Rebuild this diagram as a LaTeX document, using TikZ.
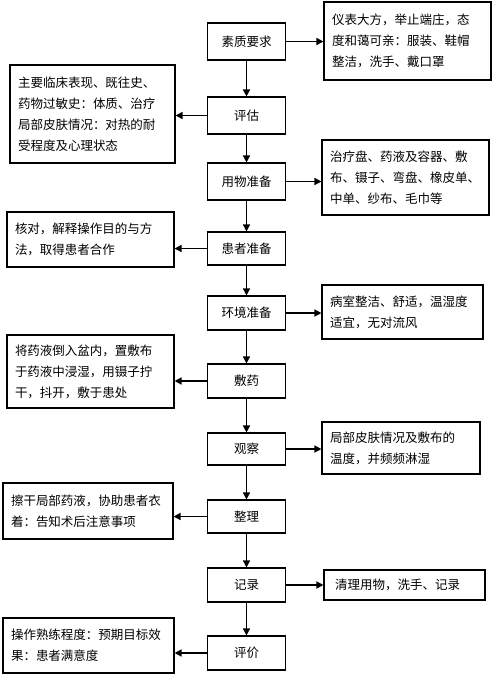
\documentclass[tikz,border=0pt]{standalone}
\usepackage{fontspec}
\newfontfamily\cjk{Noto Sans CJK SC}
\usetikzlibrary{arrows.meta,calc}
\begin{document}
\begin{tikzpicture}[x=1pt,y=-1pt,
  box/.style={draw,line width=1.1pt,rectangle,inner ysep=0pt,font=\cjk\fontsize{12.5}{21}\selectfont},
  mainbox/.style={box,inner xsep=0pt,minimum width=78pt,minimum height=35pt,align=center},
  sidebox/.style={box,inner xsep=8pt,align=left},
  arr/.style={-{Triangle[length=7pt,width=7pt]},line width=1.4pt}]
\useasboundingbox[fill=white] (0,0) rectangle (500,675);
% main column
\node[mainbox,minimum height=37pt] (b1) at (246.5,41.5) {素质要求};
\node[mainbox,minimum height=37pt] (b2) at (246.5,115.5) {评估};
\node[mainbox,minimum height=37pt] (b3) at (246.5,181.5) {用物准备};
\node[mainbox,minimum height=33pt] (b4) at (246.5,248.5) {患者准备};
\node[mainbox,minimum height=34pt] (b5) at (246.5,313) {环境准备};
\node[mainbox,minimum height=34pt] (b6) at (246.5,381) {敷药};
\node[mainbox,minimum height=32pt] (b7) at (246.5,449) {观察};
\node[mainbox,minimum height=33pt] (b8) at (246.5,516.5) {整理};
\node[mainbox,minimum height=34pt] (b9) at (246.5,585) {记录};
\node[mainbox,minimum height=34pt] (b10) at (246.5,653) {评价};
% right boxes
\node[sidebox,text width=151pt,minimum height=78pt] (r1) at (407.5,41) {仪表大方，举止端庄，态\\度和蔼可亲：服装、鞋帽\\整洁，洗手、戴口罩};
\node[sidebox,text width=151pt,minimum height=75pt] (r3) at (405.5,177.5) {治疗盘、药液及容器、敷\\布、镊子、弯盘、橡皮单、\\中单、纱布、毛巾等};
\node[sidebox,text width=145pt,minimum height=54pt] (r5) at (402.5,312) {病室整洁、舒适，温湿度\\适宜，无对流风};
\node[sidebox,text width=142pt,minimum height=52pt] (r7) at (401,448) {局部皮肤情况及敷布的\\温度，并频频淋湿};
\node[sidebox,inner xsep=11pt,text width=139pt,minimum height=30pt] (r9) at (404.5,585) {清理用物，洗手、记录};
% left boxes
\node[sidebox,text width=149pt,minimum height=98pt] (l2) at (92.5,114) {主要临床表现、既往史、\\药物过敏史：体质、治疗\\局部皮肤情况：对热的耐\\受程度及心理状态};
\node[sidebox,text width=151pt,minimum height=55pt] (l4) at (90.5,239.5) {核对，解释操作目的与方\\法，取得患者合作};
\node[sidebox,text width=151pt,minimum height=73pt] (l6) at (90.5,371.5) {将药液倒入盆内，置敷布\\于药液中浸湿，用镊子拧\\干，抖开，敷于患处};
\node[sidebox,text width=154pt,minimum height=56pt] (l8) at (88,511) {擦干局部药液，协助患者衣\\着：告知术后注意事项};
\node[sidebox,text width=155pt,minimum height=55pt] (l10) at (88.5,645.5) {操作熟练程度：预期目标效\\果：患者满意度};
% vertical arrows
\foreach \a/\b in {b1/b2,b2/b3,b3/b4,b4/b5,b5/b6,b6/b7,b7/b8,b8/b9,b9/b10}
  \draw[arr] (\a.south) -- (\a.south |- \b.north);
% side arrows
\foreach \a/\b in {b1/r1,b3/r3,b5/r5,b7/r7,b9/r9}
  \draw[arr] (\a.east) -- (\a.east -| \b.west);
\foreach \a/\b in {b2/l2,b4/l4,b6/l6,b8/l8,b10/l10}
  \draw[arr] (\a.west) -- (\a.west -| \b.east);
\end{tikzpicture}
\end{document}
